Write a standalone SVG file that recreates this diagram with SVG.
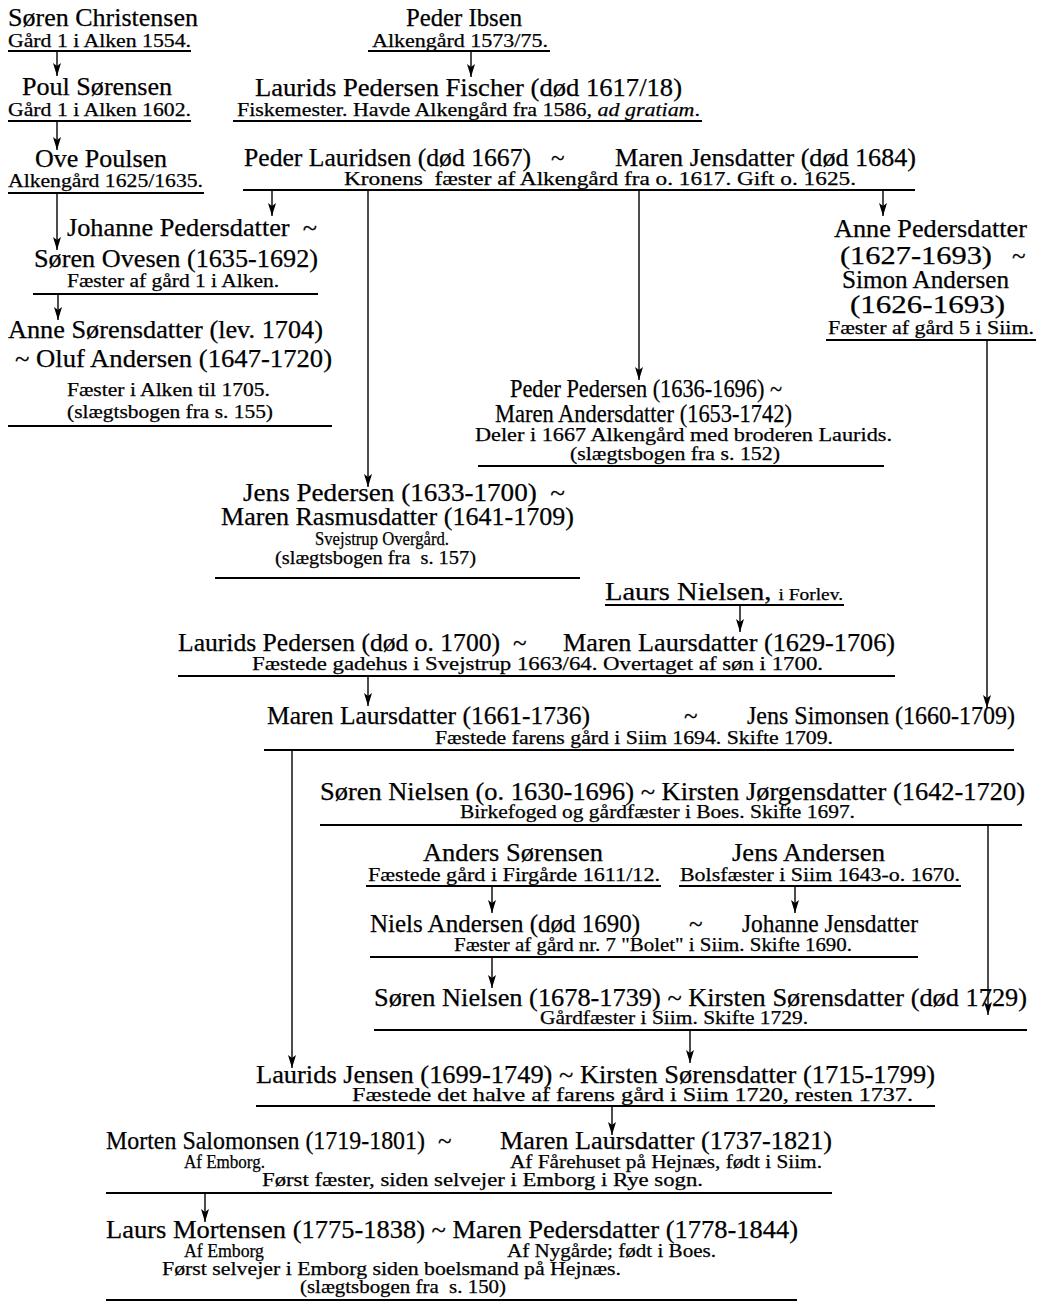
<svg xmlns="http://www.w3.org/2000/svg" width="1043" height="1307" viewBox="0 0 1043 1307">
<defs>
<marker id="ah" markerUnits="userSpaceOnUse" markerWidth="8" markerHeight="13" refX="4" refY="13" orient="0" viewBox="0 0 8 13">
<path d="M0,0 L4,13 L8,0 L4,3 z" fill="#000"/>
</marker>
<style>
text{font-family:"Liberation Serif","Times New Roman",serif;fill:#000;stroke:#000;stroke-width:0.25}
.n{font-size:25px}
.s{font-size:19px}
.t{font-size:18.5px}
.u{stroke:#000;stroke-width:1.8;fill:none}
.c line{stroke:#000;stroke-width:1.4;marker-end:url(#ah)}
</style>
</defs>
<rect width="1043" height="1307" fill="#fff"/>

<g id="soren-christensen">
<text class="n" x="8" y="26" textLength="190" lengthAdjust="spacingAndGlyphs">Søren Christensen</text>
<text class="s" x="8" y="47" textLength="183" lengthAdjust="spacingAndGlyphs">Gård 1 i Alken 1554.</text>
<line class="u" x1="8" y1="51" x2="191" y2="51"/>
</g>
<g id="poul-sorensen">
<text class="n" x="22" y="95" textLength="150" lengthAdjust="spacingAndGlyphs">Poul Sørensen</text>
<text class="s" x="8" y="116" textLength="183" lengthAdjust="spacingAndGlyphs">Gård 1 i Alken 1602.</text>
<line class="u" x1="8" y1="121" x2="191" y2="121"/>
</g>
<g id="ove-poulsen">
<text class="n" x="35" y="167" textLength="132" lengthAdjust="spacingAndGlyphs">Ove Poulsen</text>
<text class="s" x="8" y="187" textLength="195" lengthAdjust="spacingAndGlyphs">Alkengård 1625/1635.</text>
<line class="u" x1="8" y1="193" x2="204" y2="193"/>
</g>
<g id="peder-ibsen">
<text class="n" x="406" y="26" textLength="116" lengthAdjust="spacingAndGlyphs">Peder Ibsen</text>
<text class="s" x="372" y="47" textLength="176" lengthAdjust="spacingAndGlyphs">Alkengård 1573/75.</text>
<line class="u" x1="368" y1="51" x2="550" y2="51"/>
</g>
<g id="laurids-fischer">
<text class="n" x="255" y="96" textLength="427" lengthAdjust="spacingAndGlyphs">Laurids Pedersen Fischer (død 1617/18)</text>
<text class="s" x="237" y="116" textLength="463" lengthAdjust="spacingAndGlyphs">Fiskemester. Havde Alkengård fra 1586, <tspan font-style="italic">ad gratiam</tspan>.</text>
<line class="u" x1="233" y1="121" x2="702" y2="121"/>
</g>
<g id="peder-lauridsen">
<text class="n" x="244" y="166" textLength="287" lengthAdjust="spacingAndGlyphs">Peder Lauridsen (død 1667)</text>
<text class="n" x="551" y="166">~</text>
<text class="n" x="615" y="166" textLength="301" lengthAdjust="spacingAndGlyphs">Maren Jensdatter (død 1684)</text>
<text class="s" x="344" y="185" textLength="512" lengthAdjust="spacingAndGlyphs">Kronens&#160; fæster af Alkengård fra o. 1617. Gift o. 1625.</text>
<line class="u" x1="243" y1="190" x2="915" y2="190"/>
</g>
<g id="johanne-pedersdatter">
<text class="n" x="67" y="236" textLength="250" lengthAdjust="spacingAndGlyphs">Johanne Pedersdatter&#160; ~</text>
<text class="n" x="34" y="267" textLength="284" lengthAdjust="spacingAndGlyphs">Søren Ovesen (1635-1692)</text>
<text class="s" x="67" y="287" textLength="212" lengthAdjust="spacingAndGlyphs">Fæster af gård 1 i Alken.</text>
<line class="u" x1="33" y1="294" x2="318" y2="294"/>
</g>
<g id="anne-sorensdatter">
<text class="n" x="8" y="338" textLength="315" lengthAdjust="spacingAndGlyphs">Anne Sørensdatter (lev. 1704)</text>
<text class="n" x="15" y="367" textLength="317" lengthAdjust="spacingAndGlyphs">~ Oluf Andersen (1647-1720)</text>
<text class="s" x="67" y="396" textLength="203" lengthAdjust="spacingAndGlyphs">Fæster i Alken til 1705.</text>
<text class="s" x="67" y="418" textLength="206" lengthAdjust="spacingAndGlyphs">(slægtsbogen fra s. 155)</text>
<line class="u" x1="8" y1="426" x2="332" y2="426"/>
</g>
<g id="anne-pedersdatter">
<text class="n" x="834" y="237" textLength="193" lengthAdjust="spacingAndGlyphs">Anne Pedersdatter</text>
<text class="n" x="840" y="264" textLength="152" lengthAdjust="spacingAndGlyphs">(1627-1693)</text>
<text class="n" x="1012" y="264">~</text>
<text class="n" x="842" y="288" textLength="167" lengthAdjust="spacingAndGlyphs">Simon Andersen</text>
<text class="n" x="850" y="313" textLength="155" lengthAdjust="spacingAndGlyphs">(1626-1693)</text>
<text class="s" x="828" y="334" textLength="206" lengthAdjust="spacingAndGlyphs">Fæster af gård 5 i Siim.</text>
<line class="u" x1="826" y1="340" x2="1036" y2="340"/>
</g>
<g id="peder-pedersen">
<text class="n" x="510" y="397" textLength="272" lengthAdjust="spacingAndGlyphs">Peder Pedersen (1636-1696) ~</text>
<text class="n" x="495" y="422" textLength="297" lengthAdjust="spacingAndGlyphs">Maren Andersdatter (1653-1742)</text>
<text class="s" x="475" y="441" textLength="417" lengthAdjust="spacingAndGlyphs">Deler i 1667 Alkengård med broderen Laurids.</text>
<text class="s" x="570" y="460" textLength="210" lengthAdjust="spacingAndGlyphs">(slægtsbogen fra s. 152)</text>
<line class="u" x1="478" y1="466" x2="884" y2="466"/>
</g>
<g id="jens-pedersen">
<text class="n" x="243" y="501" textLength="322" lengthAdjust="spacingAndGlyphs">Jens Pedersen (1633-1700)&#160; ~</text>
<text class="n" x="221" y="525" textLength="353" lengthAdjust="spacingAndGlyphs">Maren Rasmusdatter (1641-1709)</text>
<text class="t" x="315" y="545" textLength="134" lengthAdjust="spacingAndGlyphs">Svejstrup Overgård.</text>
<text class="t" x="275" y="564" textLength="201" lengthAdjust="spacingAndGlyphs">(slægtsbogen fra&#160; s. 157)</text>
<line class="u" x1="215" y1="578" x2="580" y2="578"/>
</g>
<g id="laurs-nielsen">
<text class="n" x="605" y="600" textLength="238" lengthAdjust="spacingAndGlyphs">Laurs Nielsen, <tspan font-size="17px">i Forlev.</tspan></text>
<line class="u" x1="605" y1="605" x2="844" y2="605"/>
</g>
<g id="laurids-pedersen">
<text class="n" x="178" y="651" textLength="322" lengthAdjust="spacingAndGlyphs">Laurids Pedersen (død o. 1700)</text>
<text class="n" x="513" y="651">~</text>
<text class="n" x="563" y="651" textLength="332" lengthAdjust="spacingAndGlyphs">Maren Laursdatter (1629-1706)</text>
<text class="t" x="252" y="670" textLength="571" lengthAdjust="spacingAndGlyphs">Fæstede gadehus i Svejstrup 1663/64. Overtaget af søn i 1700.</text>
<line class="u" x1="178" y1="676" x2="895" y2="676"/>
</g>
<g id="maren-laursdatter-1661">
<text class="n" x="267" y="724" textLength="323" lengthAdjust="spacingAndGlyphs">Maren Laursdatter (1661-1736)</text>
<text class="n" x="684" y="724">~</text>
<text class="n" x="747" y="724" textLength="268" lengthAdjust="spacingAndGlyphs">Jens Simonsen (1660-1709)</text>
<text class="t" x="435" y="744" textLength="398" lengthAdjust="spacingAndGlyphs">Fæstede farens gård i Siim 1694. Skifte 1709.</text>
<line class="u" x1="264" y1="750" x2="1014" y2="750"/>
</g>
<g id="soren-nielsen-1630">
<text class="n" x="320" y="800" textLength="705" lengthAdjust="spacingAndGlyphs">Søren Nielsen (o. 1630-1696) ~ Kirsten Jørgensdatter (1642-1720)</text>
<text class="t" x="460" y="818" textLength="395" lengthAdjust="spacingAndGlyphs">Birkefoged og gårdfæster i Boes. Skifte 1697.</text>
<line class="u" x1="320" y1="825" x2="1022" y2="825"/>
</g>
<g id="anders-sorensen">
<text class="n" x="423" y="861" textLength="180" lengthAdjust="spacingAndGlyphs">Anders Sørensen</text>
<text class="t" x="368" y="881" textLength="292" lengthAdjust="spacingAndGlyphs">Fæstede gård i Firgårde 1611/12.</text>
<line class="u" x1="366" y1="886" x2="661" y2="886"/>
</g>
<g id="jens-andersen">
<text class="n" x="732" y="861" textLength="153" lengthAdjust="spacingAndGlyphs">Jens Andersen</text>
<text class="t" x="680" y="881" textLength="280" lengthAdjust="spacingAndGlyphs">Bolsfæster i Siim 1643-o. 1670.</text>
<line class="u" x1="679" y1="886" x2="961" y2="886"/>
</g>
<g id="niels-andersen">
<text class="n" x="370" y="932" textLength="270" lengthAdjust="spacingAndGlyphs">Niels Andersen (død 1690)</text>
<text class="n" x="689" y="932">~</text>
<text class="n" x="742" y="932" textLength="176" lengthAdjust="spacingAndGlyphs">Johanne Jensdatter</text>
<text class="t" x="454" y="951" textLength="398" lengthAdjust="spacingAndGlyphs">Fæster af gård nr. 7 "Bolet" i Siim. Skifte 1690.</text>
<line class="u" x1="370" y1="957" x2="918" y2="957"/>
</g>
<g id="soren-nielsen-1678">
<text class="n" x="374" y="1006" textLength="653" lengthAdjust="spacingAndGlyphs">Søren Nielsen (1678-1739) ~ Kirsten Sørensdatter (død 1729)</text>
<text class="t" x="540" y="1024" textLength="268" lengthAdjust="spacingAndGlyphs">Gårdfæster i Siim. Skifte 1729.</text>
<line class="u" x1="374" y1="1030" x2="1027" y2="1030"/>
</g>
<g id="laurids-jensen">
<text class="n" x="256" y="1083" textLength="679" lengthAdjust="spacingAndGlyphs">Laurids Jensen (1699-1749) ~ Kirsten Sørensdatter (1715-1799)</text>
<text class="t" x="352" y="1101" textLength="561" lengthAdjust="spacingAndGlyphs">Fæstede det halve af farens gård i Siim 1720, resten 1737.</text>
<line class="u" x1="256" y1="1106" x2="935" y2="1106"/>
</g>
<g id="morten-salomonsen">
<text class="n" x="106" y="1149" textLength="319" lengthAdjust="spacingAndGlyphs">Morten Salomonsen (1719-1801)</text>
<text class="n" x="438" y="1149">~</text>
<text class="n" x="500" y="1149" textLength="332" lengthAdjust="spacingAndGlyphs">Maren Laursdatter (1737-1821)</text>
<text class="t" x="184" y="1168" textLength="81" lengthAdjust="spacingAndGlyphs">Af Emborg.</text>
<text class="t" x="510" y="1168" textLength="312" lengthAdjust="spacingAndGlyphs">Af Fårehuset på Hejnæs, født i Siim.</text>
<text class="t" x="262" y="1186" textLength="441" lengthAdjust="spacingAndGlyphs">Først fæster, siden selvejer i Emborg i Rye sogn.</text>
<line class="u" x1="106" y1="1193" x2="832" y2="1193"/>
</g>
<g id="laurs-mortensen">
<text class="n" x="106" y="1238" textLength="692" lengthAdjust="spacingAndGlyphs">Laurs Mortensen (1775-1838) ~ Maren Pedersdatter (1778-1844)</text>
<text class="t" x="184" y="1257" textLength="80" lengthAdjust="spacingAndGlyphs">Af Emborg</text>
<text class="t" x="507" y="1257" textLength="209" lengthAdjust="spacingAndGlyphs">Af Nygårde; født i Boes.</text>
<text class="t" x="162" y="1275" textLength="459" lengthAdjust="spacingAndGlyphs">Først selvejer i Emborg siden boelsmand på Hejnæs.</text>
<text class="t" x="300" y="1293" textLength="206" lengthAdjust="spacingAndGlyphs">(slægtsbogen fra&#160; s. 150)</text>
<line class="u" x1="106" y1="1300" x2="797" y2="1300"/>
</g>

<g id="connectors" class="c">
<line x1="57" y1="52" x2="57" y2="76"/>
<line x1="57" y1="122" x2="57" y2="150"/>
<line x1="57" y1="194" x2="57" y2="250"/>
<line x1="58" y1="295" x2="58" y2="320"/>
<line x1="471" y1="52" x2="471" y2="77"/>
<line x1="272" y1="191" x2="272" y2="216"/>
<line x1="368" y1="191" x2="368" y2="487"/>
<line x1="639" y1="191" x2="639" y2="380"/>
<line x1="883" y1="191" x2="883" y2="216"/>
<line x1="987" y1="341" x2="987" y2="708"/>
<line x1="740" y1="606" x2="740" y2="632"/>
<line x1="368" y1="677" x2="368" y2="706"/>
<line x1="292" y1="751" x2="292" y2="1068"/>
<line x1="988" y1="826" x2="988" y2="1015"/>
<line x1="492" y1="887" x2="492" y2="913"/>
<line x1="795" y1="887" x2="795" y2="913"/>
<line x1="492" y1="958" x2="492" y2="988"/>
<line x1="690" y1="1031" x2="690" y2="1063"/>
<line x1="612" y1="1107" x2="612" y2="1135"/>
<line x1="205" y1="1194" x2="205" y2="1222"/>
</g>
</svg>
